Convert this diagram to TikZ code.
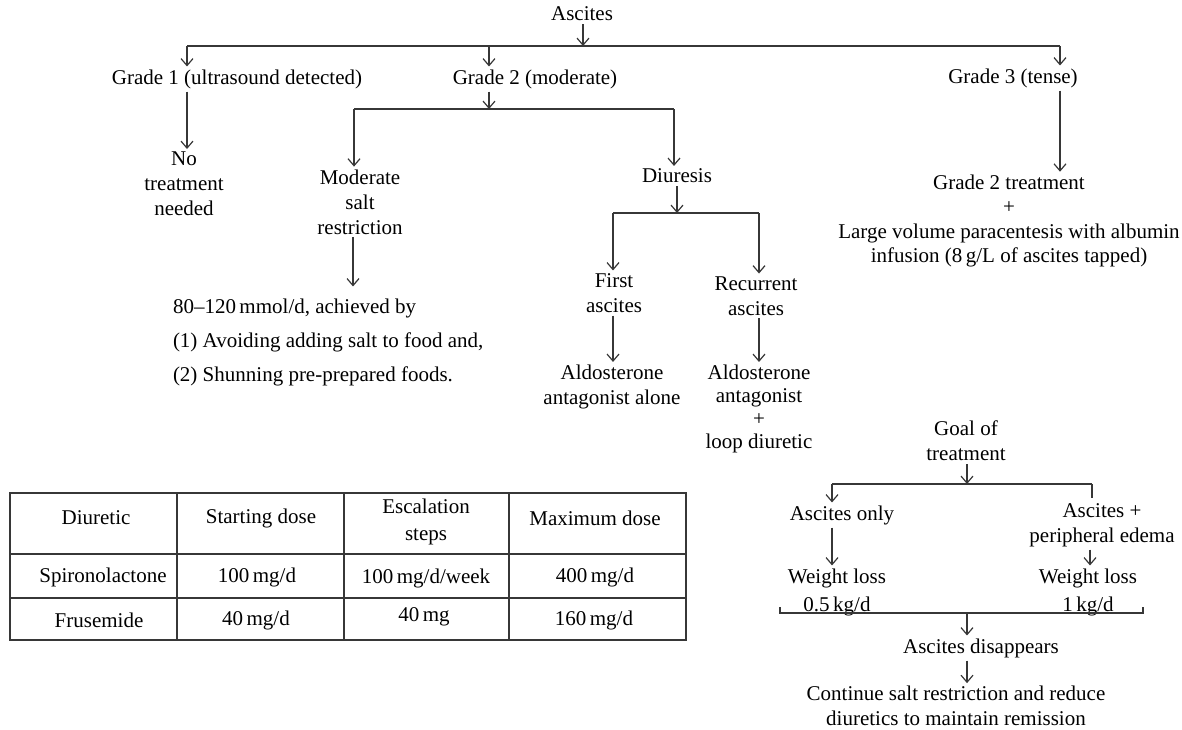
\documentclass[tikz,border=0pt]{standalone}
\usepackage{fontspec}
\setmainfont{Liberation Serif}
\usetikzlibrary{arrows.meta}
\newcommand\fsz[1]{\fontsize{21}{#1}\selectfont}
\definecolor{lc}{RGB}{55,55,55}
\begin{document}
\begin{tikzpicture}[x=1pt,y=-1pt,
  every node/.style={inner sep=0pt, outer xsep=0pt, outer ysep=3pt, font=\fsz{25}, align=center, text=black},
  ln/.style={draw=lc, line width=1.2pt},
  arr/.style={ln, -{Straight Barb[length=7pt,width=12pt]}},
  cell/.style={font=\fsz{27}}
]
\useasboundingbox (0,0) rectangle (1182,729);

% ---------- top level ----------
\node (asc) at (582,14) {Ascites};
\coordinate (jT) at (583,46);
\coordinate (jL) at (187,46);
\coordinate (jM) at (489,46);
\coordinate (jR) at (1060,46);
\draw[arr] (asc.south -| jT) -- (jT);
\draw[ln] (jL) -- (jR);

\node (g1) at (237,79) {Grade 1 (ultrasound detected)};
\node (g2) at (535,79) {Grade 2 (moderate)};
\node (g3) at (1013,78) {Grade 3 (tense)};
\draw[arr] (jL) -- (jL |- g1.north);
\draw[arr] (jM) -- (jM |- g2.north);
\draw[arr] (jR) -- (jR |- g3.north);

% ---------- grade 1 ----------
\node (no) at (184,184) {No\\treatment\\needed};
\draw[arr] (g1.south -| jL) -- (no.north -| jL);

% ---------- grade 2 ----------
\coordinate (k) at (489,109);
\coordinate (kL) at (354,109);
\coordinate (kR) at (674,109);
\draw[arr] (g2.south -| k) -- (k);
\draw[ln] (kL) -- (kR);

\node (mod) at (360,202) {Moderate\\salt\\restriction};
\node (dia) at (677,176) {Diuresis};
\draw[arr] (kL) -- (kL |- mod.north);
\draw[arr] (kR) -- (kR |- dia.north);

\node[anchor=west, align=left, font=\fsz{34}] (salt) at (173,342)
  {80--120\,mmol/d, achieved by\\(1) Avoiding adding salt to food and,\\(2) Shunning pre-prepared foods.};
\coordinate (m) at (353,0);
\draw[arr] (mod.south -| m) -- ([yshift=9pt]salt.north -| m);

\coordinate (d) at (677,213);
\coordinate (dL) at (613,213);
\coordinate (dR) at (759,213);
\draw[arr] (dia.south -| d) -- (d);
\draw[ln] (dL) -- (dR);

\node (first) at (614,293) {First\\ascites};
\node (rec) at (756,296) {Recurrent\\ascites};
\draw[arr] (dL) -- (dL |- first.north);
\draw[arr] (dR) -- (dR |- rec.north);

\node (alone) at (612,387) {Aldosterone\\antagonist alone};
\node[font=\fsz{23}] (loop) at (759,409) {Aldosterone\\antagonist\\+\\loop diuretic};
\draw[arr] (first.south -| dL) -- (alone.north -| dL);
\draw[arr] (rec.south -| dR) -- (loop.north -| dR);

% ---------- grade 3 ----------
\node[font=\fsz{24.5}] (g3t) at (1009,221)
  {Grade 2 treatment\\+\\Large volume paracentesis with albumin\\infusion (8\,g/L of ascites tapped)};
\draw[arr] (g3.south -| jR) -- (g3t.north -| jR);

% ---------- goal of treatment ----------
\node (goal) at (966,441) {Goal of\\treatment};
\coordinate (q) at (967,484);
\coordinate (qL) at (832,484);
\coordinate (qR) at (1092,484);
\draw[arr] (goal.south -| q) -- (q);
\draw[ln] (qL) -- (qR);

\node (only) at (842,515) {Ascites only};
\node (edema) at (1102,525) {Ascites +\\peripheral edema};
\draw[arr] (qL) -- (qL |- only.north);
\draw[ln] (qR) -- ([yshift=2pt]qR |- edema.north);

\node[font=\fsz{28}] (wl1) at (837,592) {Weight loss\\0.5\,kg/d};
\node[font=\fsz{28}] (wl2) at (1088,592) {Weight loss\\1\,kg/d};
\coordinate (w1) at (832,0);
\coordinate (w2) at (1090,0);
\draw[arr] (only.south -| w1) -- (wl1.north -| w1);
\draw[arr] (edema.south -| w2) -- (wl2.north -| w2);

\coordinate (bL) at (780,613);
\coordinate (bR) at (1143,613);
\coordinate (bM) at (967,613);
\draw[ln] ([yshift=6pt]bL) -- (bL) -- (bR) -- ([yshift=6pt]bR);

\node (dis) at (981,648) {Ascites disappears};
\node (cont) at (956,706) {Continue salt restriction and reduce\\diuretics to maintain remission};
\draw[arr] (bM) -- (bM |- dis.north);
\draw[arr] (dis.south -| bM) -- (cont.north -| bM);

% ---------- table ----------
\draw[ln] (10,493) rectangle (686,640);
\draw[ln] (10,554) -- (686,554);
\draw[ln] (10,598) -- (686,598);
\draw[ln] (177,493) -- (177,640);
\draw[ln] (344,493) -- (344,640);
\draw[ln] (509,493) -- (509,640);

\node[cell] (h1) at (96,518) {Diuretic};
\node[cell] (h2) at (261,518) {Starting dose};
\node[cell] (h3) at (426,522) {Escalation\\steps};
\node[cell] (h4) at (595,518) {Maximum dose};
\node[cell] (s1) at (103,577) {Spironolactone};
\node[cell] (s2) at (257,577) {100\,mg/d};
\node[cell] (s3) at (426,578) {100\,mg/d/week};
\node[cell] (s4) at (595,577) {400\,mg/d};
\node[cell] (f1) at (99,620) {Frusemide};
\node[cell] (f2) at (256,620) {40\,mg/d};
\node[cell] (f3) at (424,617) {40\,mg};
\node[cell] (f4) at (594,620) {160\,mg/d};
\end{tikzpicture}
\end{document}
